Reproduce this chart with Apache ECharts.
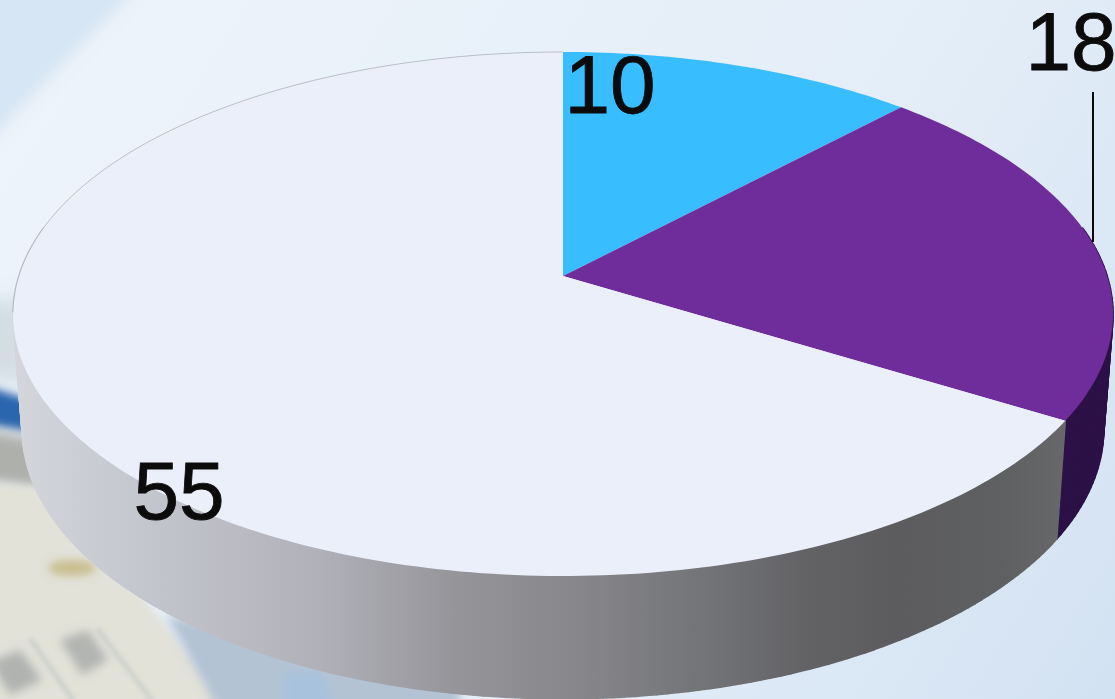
<!DOCTYPE html>
<html><head><meta charset="utf-8">
<style>html,body{margin:0;padding:0;background:#e4eef8;overflow:hidden}#c{width:1115px;height:699px}</style>
<script src="https://cdn.jsdelivr.net/npm/echarts@6/dist/echarts.min.js"></script>
</head><body><div id="c"></div>
<script>
const categories = ['A', 'B', 'C'];
const values = [10, 18, 55];
const labels = ['10', '18', '55'];
const topColors = ['#38bdff', '#6f2c9b', '#eaeffa'];
const total = values.reduce((a, b) => a + b, 0);

// perspective disc: projection of a unit circle
const k = -0.145;
const topFace = {cx: 563, cy: 276, bx: 544.2, by: 256.5};
const lowFace = {cx: 563, cy: 390, bx: 535, by: 264};
function proj(f, deg) {
  const t = deg * Math.PI / 180, u = Math.sin(t), v = -Math.cos(t), d = 1 + k * v;
  return [f.cx + f.bx * u / d, f.cy + f.by * v / d];
}
function arc(f, a0, a1) {
  const n = Math.max(2, Math.ceil(Math.abs(a1 - a0))), p = [];
  for (let i = 0; i <= n; i++) p.push(proj(f, a0 + (a1 - a0) * i / n));
  return p;
}
function range(i) {
  let s = 0;
  for (let j = 0; j < i; j++) s += values[j];
  return [s / total * 360, (s + values[i]) / total * 360];
}
const wallFill = [
  '#2a7fb0',
  '#2c1147',
  new echarts.graphic.LinearGradient(13, 0, 1113, 0, [
    {offset: 0, color: '#d4d6dc'}, {offset: 0.12, color: '#c4c6ce'},
    {offset: 0.28, color: '#b0b0b8'}, {offset: 0.40, color: '#95959a'},
    {offset: 0.52, color: '#86868a'}, {offset: 0.64, color: '#717275'},
    {offset: 0.72, color: '#636366'}, {offset: 0.80, color: '#5c5c5f'},
    {offset: 0.90, color: '#5f6062'}, {offset: 1, color: '#6d6e6f'}
  ], true)
];
const labelCentre = [[610, 90], [1071, 47], [179, 496]];

// soft-edged background pieces: only the blurred shadow of an off-canvas shape shows
const OFF = 3000;
function soft(points, fill, blur) {
  return {type: 'polygon', silent: true, z: -10, x: -OFF, shape: {points},
    style: {fill, shadowBlur: blur, shadowColor: fill, shadowOffsetX: OFF}};
}
function softE(cx, cy, rx, ry, fill, blur) {
  return {type: 'ellipse', silent: true, z: -10, x: -OFF, shape: {cx, cy, rx, ry},
    style: {fill, shadowBlur: blur, shadowColor: fill, shadowOffsetX: OFF}};
}
const bg = [
  {type: 'rect', silent: true, z: -20, shape: {x: 0, y: 0, width: 1115, height: 699},
    style: {fill: new echarts.graphic.LinearGradient(0, 0, 1, 1, [
      {offset: 0, color: '#eef4fb'}, {offset: 0.6, color: '#e4eef8'}, {offset: 1, color: '#d3e2f2'}])}},
  soft([[-40, -40], [165, -40], [-40, 170]], '#d6e6f4', 14),
  soft([[-40, 300], [30, 300], [30, 385], [-40, 372]], '#d3dde3', 20),
  soft([[-40, 378], [30, 400], [30, 432], [-40, 420]], '#2a66ae', 8),
  soft([[-40, 425], [35, 438], [45, 490], [-40, 480]], '#aeb0ac', 14),
  soft([[-40, 478], [60, 490], [240, 720], [-40, 720]], '#e2e2d9', 8),
  soft([[166, 615], [460, 680], [460, 740], [235, 740]], '#b3c3d4', 10),
  soft([[285, 672], [320, 672], [350, 740], [285, 740]], '#a8c2de', 10),
  softE(72, 568, 24, 8, '#c9bd90', 8),
  soft([[-10, 662], [20, 650], [42, 680], [10, 695]], '#b0b3b0', 10),
  soft([[60, 640], [88, 630], [108, 660], [82, 675]], '#b3b5b2', 10),
  soft([[28, 640], [32, 637], [90, 720], [84, 720]], '#cdd0cc', 4),
  soft([[95, 630], [99, 627], [170, 720], [164, 720]], '#cdd0cc', 4)
];

const data = values.map((v, i) => ({name: categories[i], value: v}));
const chart = echarts.init(document.getElementById('c'), null, {renderer: 'canvas'});
chart.setOption({
  animation: false,
  backgroundColor: 'transparent',
  graphic: bg,
  series: [
    {
      type: 'custom', coordinateSystem: 'none', silent: true, z: 1, data,
      renderItem(params) {
        const [a0, a1] = range(params.dataIndex);
        const up = arc(topFace, a0, a1), lo = arc(lowFace, a0, a1), kids = [];
        const fill = wallFill[params.dataIndex];
        const step = (a1 - a0) / (up.length - 1);
        for (let j = 0; j + 1 < up.length; j++) {
          // the far part of the rim lies behind the top face: no wall is drawn there
          if (Math.cos((a0 + (j + 0.5) * step) * Math.PI / 180) > 0.2) continue;
          kids.push({type: 'polygon', shape: {points: [up[j], up[j + 1], lo[j + 1], lo[j]]},
            style: {fill, stroke: fill, lineWidth: 1.6, lineJoin: 'round'}});
        }
        return {type: 'group', children: kids};
      }
    },
    {
      type: 'custom', coordinateSystem: 'none', silent: true, z: 2, data,
      renderItem(params) {
        const i = params.dataIndex, [a0, a1] = range(i);
        const pts = [[topFace.cx, topFace.cy]].concat(arc(topFace, a0, a1));
        const kids = [{type: 'polygon', shape: {points: pts}, style: {fill: topColors[i]}}];
        if (i === 2) kids.push({type: 'polyline', shape: {points: arc(topFace, 262, a1)},
          style: {fill: null, stroke: 'rgba(100,100,110,0.45)', lineWidth: 0.8}});
        return {type: 'group', children: kids};
      }
    },
    {
      type: 'custom', coordinateSystem: 'none', silent: true, z: 3, data,
      renderItem(params) {
        const i = params.dataIndex;
        const kids = [{type: 'text', style: {
          text: labels[i], x: labelCentre[i][0], y: labelCentre[i][1],
          align: 'center', verticalAlign: 'middle', fill: '#0b0b0b',
          stroke: '#0b0b0b', lineWidth: 0.8,
          font: '82px "Liberation Sans", Arial, sans-serif'}}];
        if (i === 1) kids.push({type: 'line',
          shape: {x1: 1093, y1: 92, x2: 1093, y2: 242},
          style: {stroke: '#0b0b0b', lineWidth: 2}});
        return {type: 'group', children: kids};
      }
    }
  ]
});
</script></body></html>
